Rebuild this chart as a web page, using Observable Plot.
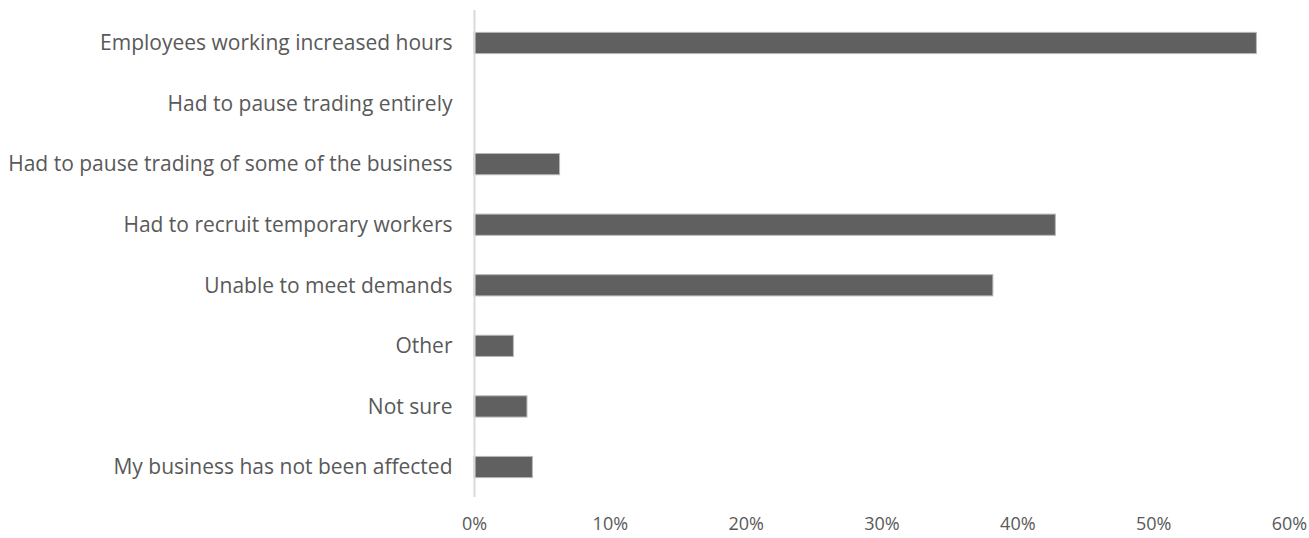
<!DOCTYPE html>
<html>
<head>
<meta charset="utf-8">
<script src="https://cdn.jsdelivr.net/npm/d3@7"></script>
<script src="https://cdn.jsdelivr.net/npm/@observablehq/plot@0.6"></script>
<style>
  html, body { margin: 0; padding: 0; background: #fff; }
  #chart svg g[aria-label="y-axis tick label"] { font-size: 21px; }
  #chart svg g[aria-label="x-axis tick label"] { font-size: 18px; }
</style>
</head>
<body>
<div id="chart"></div>
<script>
const categories = [
  "Employees working increased hours",
  "Had to pause trading entirely",
  "Had to pause trading of some of the business",
  "Had to recruit temporary workers",
  "Unable to meet demands",
  "Other",
  "Not sure",
  "My business has not been affected"
];
const values = [0.576, 0, 0.063, 0.428, 0.382, 0.029, 0.039, 0.043];
const xTicks = [0, 0.1, 0.2, 0.3, 0.4, 0.5, 0.6];

const data = categories.map((c, i) => ({category: c, value: values[i]}));

const chart = Plot.plot({
  width: 1309,
  height: 538,
  marginLeft: 474,
  marginRight: 20,
  marginTop: 10,
  marginBottom: 41,
  style: {fontFamily: "'Open Sans', sans-serif", fontSize: "18px", color: "#595959", background: "#fff"},
  x: {domain: [0, 0.6], ticks: xTicks, tickFormat: d3.format(".0%"), tickSize: 0, tickPadding: 20, label: null},
  y: {domain: categories, range: [12.7, 497.3], round: false, paddingInner: 0.65, paddingOuter: 0.325, tickSize: 0, tickPadding: 22, label: null},
  marks: [
    Plot.barX(data, {x: "value", y: "category", fill: "#606060", stroke: "#b8b8b8", strokeWidth: 1}),
    Plot.ruleX([0], {stroke: "#d9d9d9", strokeWidth: 2})
  ]
});
document.getElementById("chart").appendChild(chart);
</script>
</body>
</html>
